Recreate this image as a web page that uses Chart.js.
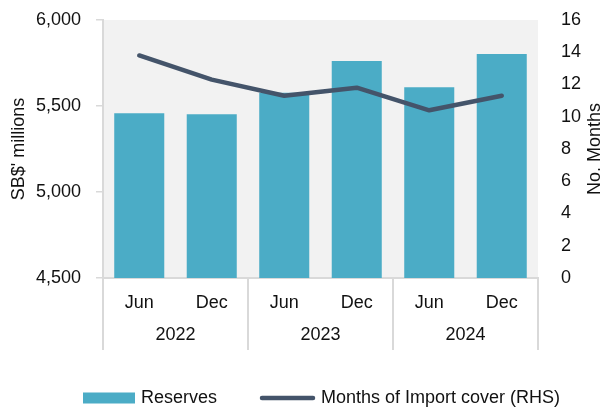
<!DOCTYPE html>
<html>
<head>
<meta charset="utf-8">
<script src="https://cdn.jsdelivr.net/npm/chart.js@4/dist/chart.umd.min.js"></script>
<style>
    body { margin: 0; background: #fff; }
    #wrap { width: 603px; height: 407px; }
</style>
</head>
<body>
<div id="wrap"><canvas id="reservesChart" width="603" height="407"></canvas></div>
<script>
// Half-year periods and the years they group into
const periods = ['Jun', 'Dec', 'Jun', 'Dec', 'Jun', 'Dec'];
const years = ['2022', '2023', '2024'];

// Foreign reserves (SB$ millions) and months of import cover
const reserves = [5458, 5452, 5577, 5762, 5609, 5802];
const importCover = [13.8, 12.3, 11.3, 11.8, 10.4, 11.3];

const leftTicks = { min: 4500, max: 6000, step: 500 };
const rightTicks = { min: 0, max: 16, step: 2 };

const FONT = "'Liberation Sans', Arial, sans-serif";
const TEXT = '#111';
const AXIS = '#d9d9d9';

// fixed axis sizes so the plot box stays put
function fixWidth(w) {
    return scale => {
        scale.width = w;
        scale.paddingTop = 0;
        scale.paddingBottom = 0;
    };
}

// Background, year grouping, axis titles and legend
const decorations = {
    id: 'decorations',
    beforeDraw(chart) {
        const { ctx, chartArea: a } = chart;
        ctx.save();
        ctx.fillStyle = '#f2f2f2';
        ctx.fillRect(a.left, a.top, a.right - a.left, a.bottom - a.top);
        ctx.restore();
    },
    afterDraw(chart) {
        const { ctx, chartArea: a } = chart;
        const x = chart.scales.x;
        const catW = x.width / periods.length;
        const perYear = periods.length / years.length;

        ctx.save();
        // separators between years
        ctx.strokeStyle = AXIS;
        ctx.lineWidth = 2;
        for (let g = 0; g <= years.length; g++) {
            const px = g < years.length
                ? x.getPixelForValue(g * perYear) - catW / 2
                : x.getPixelForValue(periods.length - 1) + catW / 2;
            ctx.beginPath();
            ctx.moveTo(px, a.bottom);
            ctx.lineTo(px, a.bottom + 72);
            ctx.stroke();
        }

        // year labels
        ctx.fillStyle = TEXT;
        ctx.font = '18px ' + FONT;
        ctx.textAlign = 'center';
        ctx.textBaseline = 'middle';
        years.forEach((yr, g) => {
            const mid = (x.getPixelForValue(g * perYear) + x.getPixelForValue(g * perYear + perYear - 1)) / 2;
            ctx.fillText(yr, mid, a.bottom + 57);
        });

        // axis titles, both reading bottom to top
        const midY = (a.top + a.bottom) / 2;
        [[19.5, "SB$' millions"], [595, 'No. Months']].forEach(([tx, label]) => {
            ctx.save();
            ctx.translate(tx, midY);
            ctx.rotate(-Math.PI / 2);
            ctx.fillText(label, 0, 0);
            ctx.restore();
        });

        // legend
        const ly = 398;
        const [bars, line] = chart.data.datasets;
        ctx.textAlign = 'left';
        ctx.fillStyle = bars.backgroundColor;
        ctx.fillRect(83, ly - 5.5, 52, 11);
        ctx.fillStyle = TEXT;
        ctx.fillText(bars.label, 141, ly);

        ctx.strokeStyle = line.borderColor;
        ctx.lineWidth = 4.5;
        ctx.lineCap = 'round';
        ctx.beginPath();
        ctx.moveTo(262, ly);
        ctx.lineTo(313, ly);
        ctx.stroke();
        ctx.fillText(line.label, 321, ly);
        ctx.restore();
    }
};

new Chart(document.getElementById('reservesChart'), {
    type: 'bar',
    data: {
        labels: periods,
        datasets: [
            {
                label: 'Reserves',
                data: reserves,
                backgroundColor: '#4bacc6',
                categoryPercentage: 1,
                barPercentage: 0.69,
                yAxisID: 'y',
                order: 1
            },
            {
                type: 'line',
                label: 'Months of Import cover (RHS)',
                data: importCover,
                borderColor: '#44546a',
                borderWidth: 4.5,
                borderCapStyle: 'round',
                borderJoinStyle: 'round',
                pointRadius: 0,
                tension: 0,
                yAxisID: 'y1',
                order: 0
            }
        ]
    },
    options: {
        responsive: false,
        animation: false,
        layout: { padding: { top: 20, bottom: 57, left: 0, right: 0 } },
        plugins: {
            legend: { display: false },
            tooltip: { enabled: false }
        },
        scales: {
            x: {
                grid: { display: false },
                border: { display: true, color: AXIS, width: 2 },
                ticks: { color: TEXT, font: { family: FONT, size: 18 }, padding: 6, maxRotation: 0 },
                afterFit(scale) { scale.height = 72; }
            },
            y: {
                position: 'left',
                min: leftTicks.min,
                max: leftTicks.max,
                grid: { drawOnChartArea: false, drawTicks: true, tickLength: 7, color: AXIS, lineWidth: 1.5 },
                border: { display: true, color: AXIS, width: 2 },
                ticks: {
                    stepSize: leftTicks.step,
                    color: TEXT,
                    font: { family: FONT, size: 18 },
                    padding: 15,
                    callback: v => v.toLocaleString('en-US')
                },
                afterFit: fixWidth(103)
            },
            y1: {
                position: 'right',
                min: rightTicks.min,
                max: rightTicks.max,
                grid: { display: false },
                border: { display: false },
                ticks: {
                    stepSize: rightTicks.step,
                    color: TEXT,
                    font: { family: FONT, size: 18 },
                    padding: 15
                },
                afterFit: fixWidth(65)
            }
        }
    },
    plugins: [decorations]
});
</script>
</body>
</html>
